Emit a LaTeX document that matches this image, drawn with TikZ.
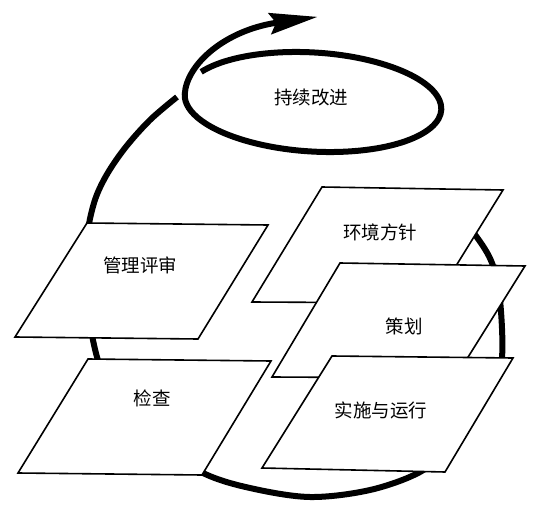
\documentclass[tikz,border=0pt]{standalone}
\usepackage{fontspec}
\newfontfamily\cjk{Noto Sans CJK SC}
\usetikzlibrary{arrows.meta}
\begin{document}
\begin{tikzpicture}[x=1pt,y=-1pt,
  card/.style={draw=black, fill=white, line width=1.6pt, line join=miter},
  cardtext/.style={font=\cjk\fontsize{18.5}{20}\selectfont, inner sep=0pt},
  loopline/.style={line width=6pt, line cap=butt}]
\useasboundingbox (0,0) rectangle (536,506);

% big cycle arc (partly hidden behind the cards)
\draw[loopline] plot[smooth, tension=0.55] coordinates {
  (455,212) (476,236) (492,263) (500,300) (502,357) (492,383) (474,415)
  (452,445) (420,472) (370,490) (310,497) (250,488) (203,473) (150,440)
  (115,400) (97,357) (87,300) (87,240) (94,203) (106,176) (125,148)
  (150,120) (177,97)};

% cards
\coordinate (m1) at (87,223);  \coordinate (m2) at (268,225);
\coordinate (m3) at (198,339); \coordinate (m4) at (15,337);
\draw[card] (m1) -- (m2) -- (m3) -- (m4) -- cycle;
\node[cardtext] (review) at (140,265) {管理评审};

\coordinate (c1) at (88,359);  \coordinate (c2) at (271,361);
\coordinate (c3) at (202,475); \coordinate (c4) at (18,473);
\draw[card] (c1) -- (c2) -- (c3) -- (c4) -- cycle;
\node[cardtext] (check) at (152,398) {检查};

\coordinate (e1) at (322,187); \coordinate (e2) at (503,190);
\coordinate (e3) at (433,303); \coordinate (e4) at (252,302);
\draw[card] (e1) -- (e2) -- (e3) -- (e4) -- cycle;
\node[cardtext] (policy) at (380,232) {环境方针};

\coordinate (p1) at (340,263); \coordinate (p2) at (525,266);
\coordinate (p3) at (455,378); \coordinate (p4) at (272,377);
\draw[card] (p1) -- (p2) -- (p3) -- (p4) -- cycle;
\node[cardtext] (plan) at (404,326) {策划};

\coordinate (i1) at (332,356); \coordinate (i2) at (513,358);
\coordinate (i3) at (445,472); \coordinate (i4) at (262,468);
\draw[card] (i1) -- (i2) -- (i3) -- (i4) -- cycle;
\node[cardtext] (impl) at (381,410) {实施与运行};

% continual improvement loop with arrow
\begin{scope}[shift={(313,102)}, rotate=-3.5]
  \draw[loopline, -{Stealth[length=48pt,width=21pt,inset=6pt]}]
    (-152:128.5 and 49.5)
    arc[start angle=-152, end angle=180, x radius=128.5, y radius=49.5]
    .. controls (-128.5,-30) and (-92,-66.5) .. (-0.5,-85.3);
\end{scope}
\node[cardtext] (improve) at (311,98) {持续改进};
\end{tikzpicture}
\end{document}
